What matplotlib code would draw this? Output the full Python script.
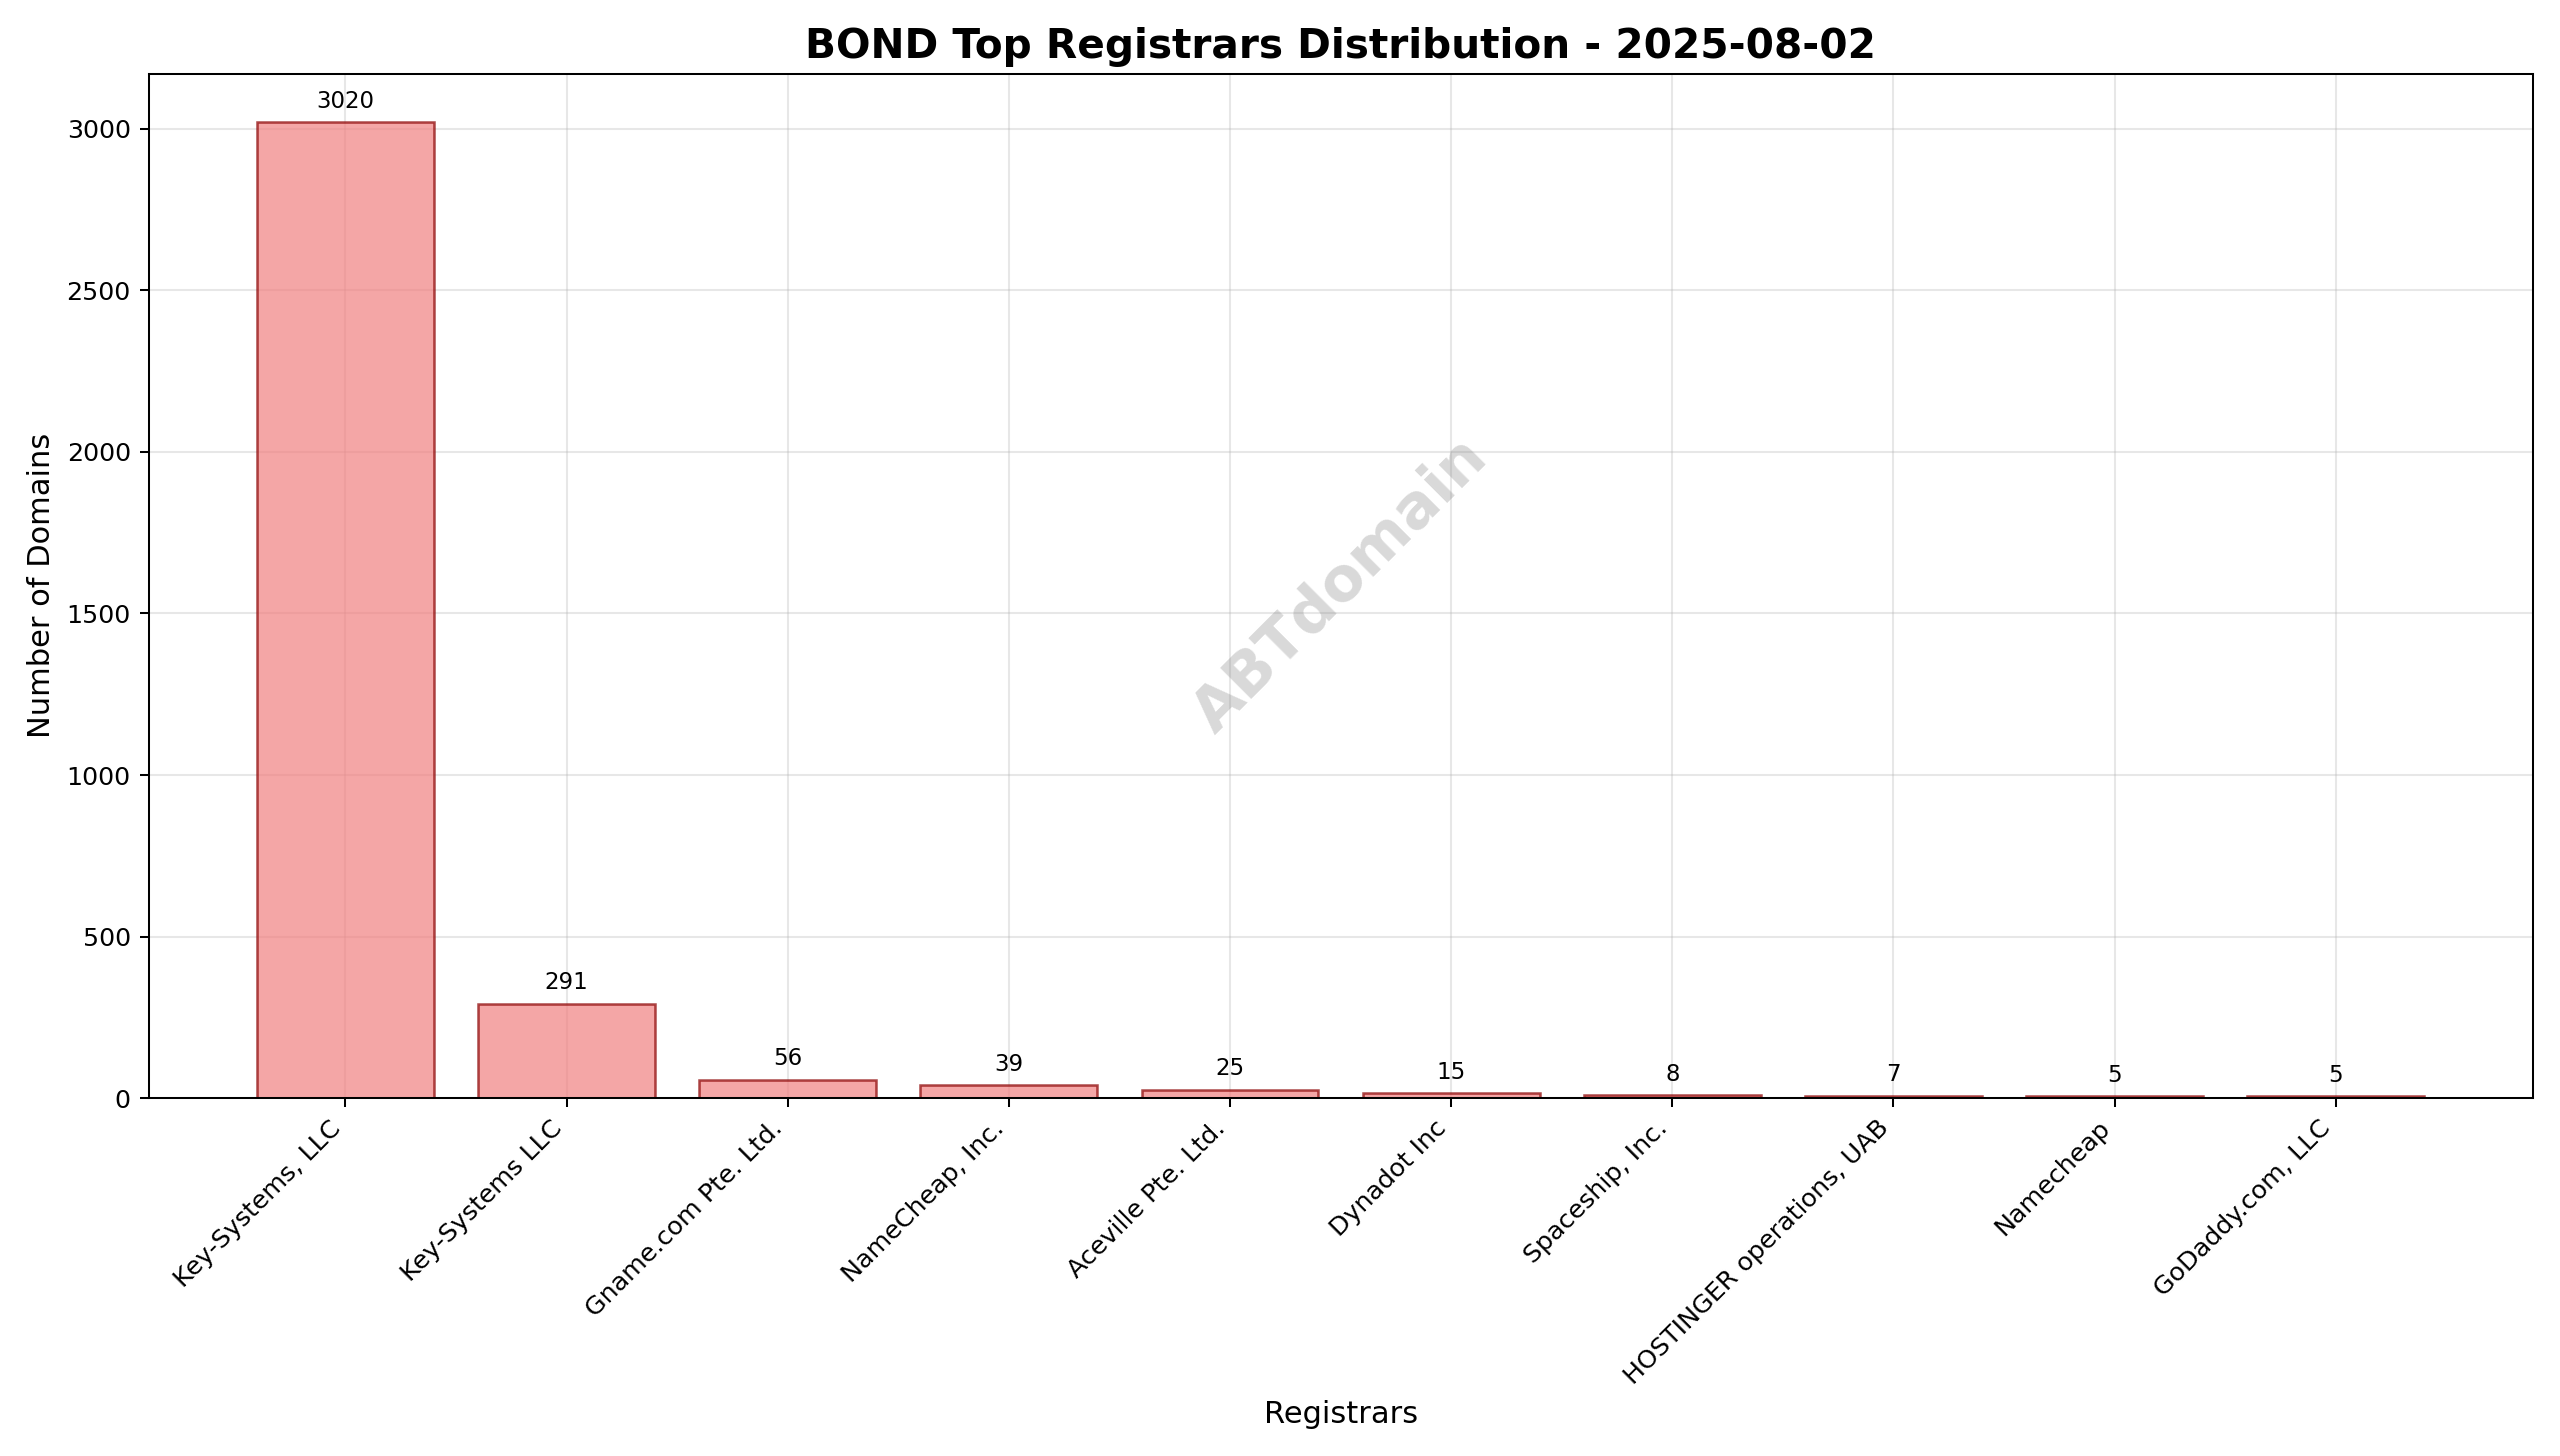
import matplotlib
matplotlib.use("Agg")
import matplotlib.pyplot as plt

registrars = ["Key-Systems, LLC", "Key-Systems LLC", "Gname.com Pte. Ltd.",
              "NameCheap, Inc.", "Aceville Pte. Ltd.", "Dynadot Inc",
              "Spaceship, Inc.", "HOSTINGER operations, UAB", "Namecheap",
              "GoDaddy.com, LLC"]
counts = [3020, 291, 56, 39, 25, 15, 8, 7, 5, 5]

# 14x8 inch figure rendered at higher dpi to reach 2560x1456
fig, ax = plt.subplots(figsize=(14, 7.9625), dpi=2560 / 14)
bars = ax.bar(registrars, counts, color="lightcoral", alpha=0.7,
              edgecolor="darkred", linewidth=1)
for b, v in zip(bars, counts):
    ax.text(b.get_x() + b.get_width() / 2, b.get_height() + 30, str(v),
            ha="center", va="bottom", fontsize=9)

ax.set_title("BOND Top Registrars Distribution - 2025-08-02",
             fontsize=16, fontweight="bold")
ax.set_xlabel("Registrars", fontsize=12)
ax.set_ylabel("Number of Domains", fontsize=12)
ax.grid(True, alpha=0.3)
ax.set_axisbelow(True)
plt.setp(ax.get_xticklabels(), rotation=45, ha="right")
ax.text(0.5, 0.5, "ABTdomain", transform=ax.transAxes, fontsize=24,
        color="gray", alpha=0.3, rotation=45, ha="center", va="center",
        fontweight="bold")
plt.tight_layout()
plt.savefig("out.png", dpi=2560 / 14)
